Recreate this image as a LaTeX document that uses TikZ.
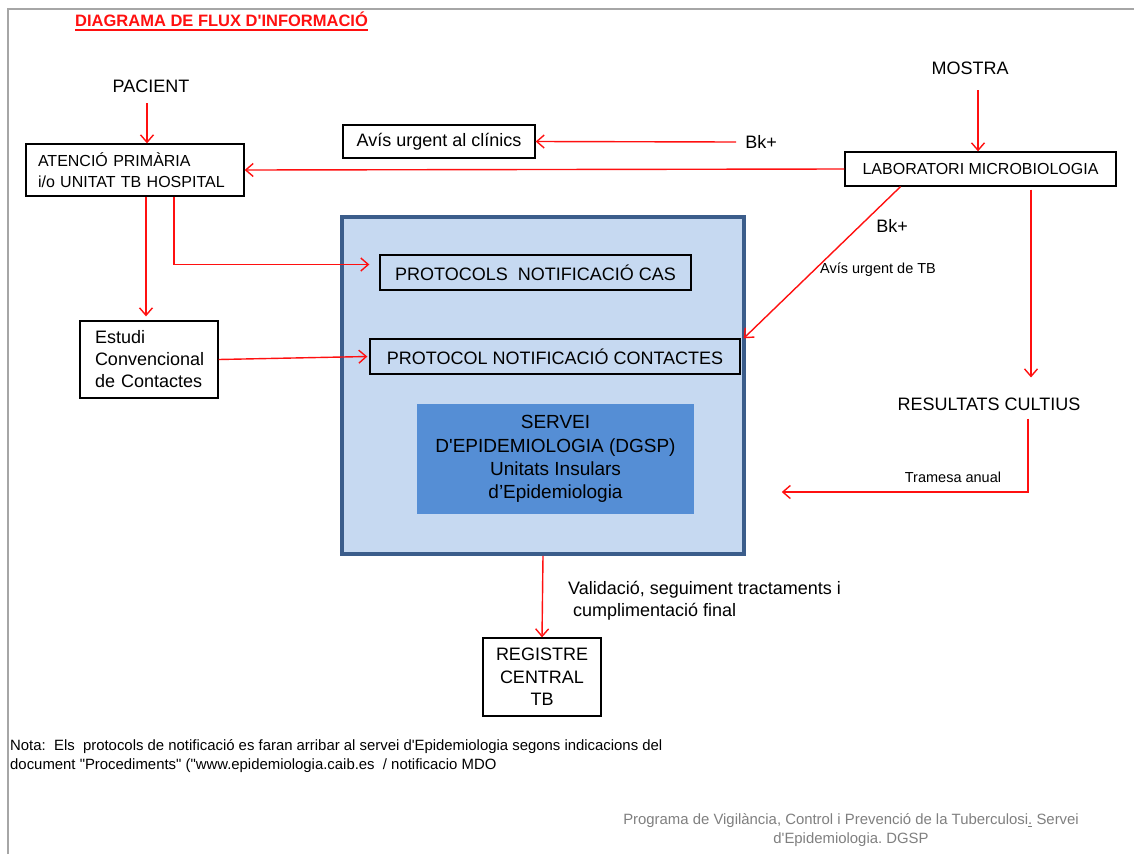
\documentclass[tikz,border=0pt]{standalone}
\usepackage{fontspec}
\setmainfont{Liberation Sans}[Ligatures=TeXOff]
\usetikzlibrary{arrows.meta,calc}
\definecolor{flow}{HTML}{FF1010}
\definecolor{panelfill}{HTML}{C6D9F1}
\definecolor{panelline}{HTML}{3B5D8B}
\definecolor{servfill}{HTML}{558ED5}
\definecolor{framegrey}{HTML}{A6A6A6}
\definecolor{notegrey}{HTML}{7F7F7F}
\newcommand\setfs[2]{\fontsize{#1}{#2}\selectfont}
\frenchspacing

\begin{document}
\begin{tikzpicture}[x=1pt,y=-1pt,
  box/.style={draw=black, line width=1.3pt, inner sep=0pt, font=\setfs{18}{22}},
  lbl/.style={inner sep=2pt, font=\setfs{18}{22}},
  small/.style={inner sep=1pt, font=\setfs{14.5}{17}},
  arr/.style={draw=flow, line width=1.4pt,
    -{Straight Barb[length=7.5pt,width=13pt,line width=1.4pt]}},
]
\useasboundingbox (0,0) rectangle (1134,854);
% page frame
\draw[framegrey, line width=2.5pt] (8,854) -- (8,9) -- (1134,9);

% title
\node[font=\bfseries\setfs{16.5}{19}, text=flow, anchor=west, inner sep=0pt] (title) at (75,19) {DIAGRAMA DE FLUX D'INFORMACIÓ};
\draw[flow, line width=1.6pt] ($(title.south west)+(0,3.5)$) -- ($(title.south east)+(0,3.5)$);

% central panel
\node[draw=panelline, line width=3.5pt, fill=panelfill, minimum width=402pt, minimum height=337pt, inner sep=0pt] (big) at (543,385.5) {};
\node[box, minimum width=311pt, minimum height=35pt] (cas) at (535.5,272.5) {PROTOCOLS\ \ NOTIFICACIÓ CAS};
\node[box, minimum width=370pt, minimum height=35pt] (cont) at (555,356.5) {PROTOCOL NOTIFICACIÓ CONTACTES};
\node[fill=servfill, minimum width=277pt, minimum height=110pt, inner sep=0pt, align=center, font=\setfs{19}{23.3}] (serv) at (555.5,459) {SERVEI\\D'EPIDEMIOLOGIA (DGSP)\\Unitats Insulars\\d’Epidemiologia};

% boxes
\node[box, fill=white, text width=194pt, inner xsep=12pt, minimum height=52pt, align=left, font=\setfs{16}{21}] (aten) at (135,170) {ATENCIÓ PRIMÀRIA\\i/o UNITAT TB HOSPITAL};
\node[box, fill=white, minimum width=192pt, minimum height=33pt] (avis) at (439,141.5) {Avís urgent al clínics};
\node[box, fill=white, minimum width=271pt, minimum height=34pt, font=\setfs{16}{20}] (lab) at (980.5,169) {LABORATORI MICROBIOLOGIA};
\node[box, fill=white, text width=108pt, inner xsep=15pt, minimum height=77pt, align=left] (est) at (149,359.5) {Estudi\\Convencional\\de Contactes};
\node[box, fill=white, minimum width=118pt, minimum height=78pt, align=center, font=\setfs{18}{22.5}] (reg) at (542,677) {REGISTRE\\CENTRAL\\TB};

% free labels
\node[lbl] (pac) at (151,86) {PACIENT};
\node[lbl] (mos) at (970,68) {MOSTRA};
\node[lbl] (bka) at (761,142) {Bk+};
\node[lbl] (bkb) at (892,226) {Bk+};
\node[small] (avtb) at (878,270) {Avís urgent de TB};
\node[lbl] (res) at (989,404) {RESULTATS CULTIUS};
\node[small] (tram) at (953,477) {Tramesa anual};
\node[lbl, anchor=west, align=left, inner sep=0pt] (val) at (568,601) {Validació, seguiment tractaments i\\\hspace*{5pt}cumplimentació final};

% connectors
\draw[arr] ($(pac.south)+(-4,8.5)$) -- ($(aten.north)+(12,0)$);
\draw[arr] ($(mos.south)+(8,13.5)$) -- ($(lab.north)+(-2.5,0)$);
\draw[arr] ($(bka.west)+(-7,0)$) -- (avis.east);
\draw[arr] (lab.west) -- (aten.east);
\draw[arr] ($(aten.south)+(39,0)$) |- ($(cas.west)+(-10,-8)$);
\draw[arr] ($(aten.south)+(11,0)$) -- ($(est.north)+(-3,-4)$);
\draw[arr] (est.east) -- ($(cont.west)+(-2,0)$);
\draw[arr] ($(lab.south)+(-80,0)$) -- ($(cont.north east)+(3,0)$);
\draw[arr] ($(lab.south)+(50.5,3)$) -- ($(res.north)+(42,-18)$);
\draw[arr] ($(res.south)+(39,6)$) |- ($(big.east)+(36,106.5)$);
\draw[arr] (big.south) -- (reg.north);

% notes
\node[anchor=north west, align=left, inner sep=0pt, font=\setfs{14.9}{19}] (nota) at (10,739) {Nota:\ \ Els\ \ protocols de notificació es faran arribar al servei d'Epidemiologia segons indicacions del\\document "Procediments" ("www.epidemiologia.caib.es\ \ / notificacio MDO};
\node[align=center, inner sep=0pt, text=notegrey, font=\setfs{14.9}{19}] (foot) at (851,830) {Programa de Vigilància, Control i Prevenció de la Tuberculosi\underline{.} Servei\\d'Epidemiologia. DGSP};
\end{tikzpicture}
\end{document}
